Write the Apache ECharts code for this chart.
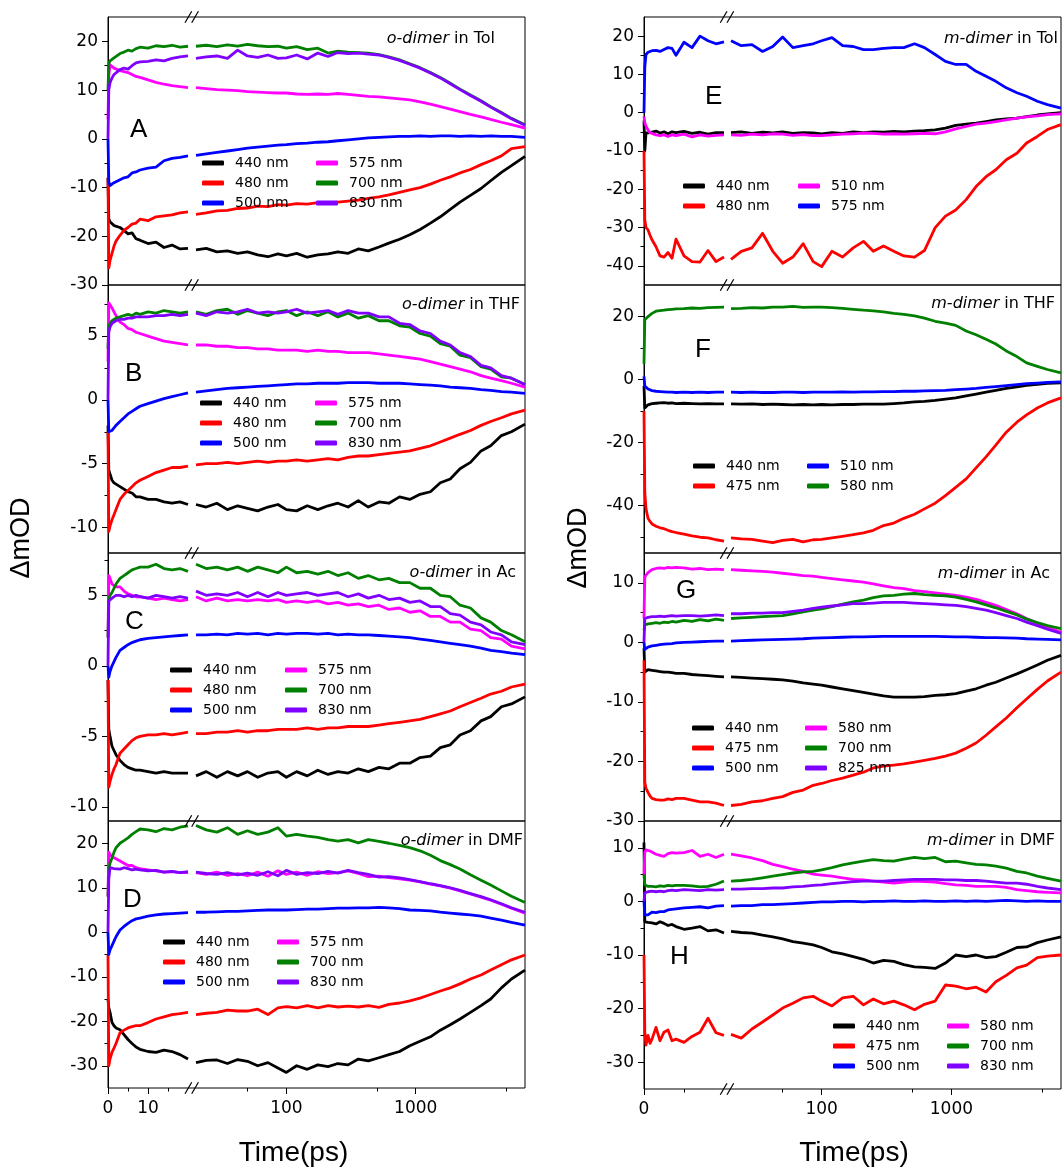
<!DOCTYPE html>
<html><head><meta charset="utf-8">
<script src="https://cdn.jsdelivr.net/npm/echarts@6/dist/echarts.min.js"></script>
<style>html,body{margin:0;padding:0;background:#fff}#c{width:1062px;height:1171px}</style>
</head><body><div id="c"></div>
<script>
// ---------- time axes (ps) ----------
const tLin = [0, 0.2, 0.5, 1, 1.5, 2, 3, 4, 5, 6, 7, 8, 10, 12, 14, 16, 18, 20];
const tLog = [20, 24, 29, 35, 42, 50, 60, 72, 86, 100, 120, 145, 175, 210, 250, 300, 360, 430, 520, 620, 750, 900, 1080, 1300, 1550, 1850, 2200, 2650, 3200, 3800, 4600, 5500, 7000];
const xTickLeft = [0, 10];
const xTickRight = [0];
const xTickLog = [100, 1000];

// ---------- A: o-dimer in Tol ----------
const A440L = [-8, -16.5, -17, -17.3, -17.8, -17.5, -18.2, -18.8, -19.5, -19.3, -20.5, -20.8, -21.5, -21.2, -22.3, -21.8, -22.6, -22.5];
const A440R = [-22.8, -22.5, -23.2, -23.0, -23.5, -23.2, -23.8, -24.2, -23.6, -24.0, -23.5, -24.3, -23.8, -23.6, -23.2, -23.5, -22.6, -23.0, -22.2, -21.4, -20.6, -19.7, -18.6, -17.3, -16.0, -14.5, -13.0, -11.6, -10.2, -8.6, -6.9, -5.5, -3.6];
const A480L = [-8, -26.5, -25, -23.5, -22, -21, -19.8, -18.8, -18.2, -17.5, -17.3, -16.5, -16.8, -16, -15.8, -15.6, -15.2, -15];
const A480R = [-15.5, -15.2, -14.8, -14.7, -14.3, -14.2, -13.8, -13.9, -13.5, -13.6, -13.3, -13.4, -13.1, -13.2, -13.0, -12.8, -12.6, -12.2, -11.9, -11.5, -11.0, -10.5, -10.0, -9.3, -8.5, -7.8, -7.0, -6.3, -5.3, -4.5, -3.5, -2.0, -1.6];
const A500L = [0, -8.8, -9.6, -9.2, -9.0, -8.8, -8.4, -8.0, -7.8, -7.0, -6.8, -6.4, -6.0, -5.8, -4.5, -4.0, -3.8, -3.5];
const A500R = [-3.4, -3.1, -2.8, -2.5, -2.2, -1.9, -1.7, -1.5, -1.3, -1.2, -1.0, -0.9, -0.7, -0.6, -0.4, -0.2, 0.0, 0.2, 0.3, 0.4, 0.5, 0.5, 0.6, 0.5, 0.6, 0.6, 0.5, 0.6, 0.5, 0.6, 0.5, 0.5, 0.3];
const A575L = [4, 13, 15.2, 14.8, 14.5, 14.2, 14.0, 13.8, 13.6, 13.2, 12.8, 12.6, 12.1, 11.6, 11.2, 10.9, 10.7, 10.5];
const A575R = [10.5, 10.3, 10.1, 10.0, 9.9, 9.7, 9.6, 9.5, 9.4, 9.4, 9.2, 9.1, 9.2, 9.1, 9.3, 9.1, 8.9, 8.7, 8.6, 8.4, 8.2, 8.0, 7.6, 7.1, 6.6, 6.1, 5.6, 5.0, 4.5, 4.0, 3.4, 2.9, 2.2];
const A700L = [10, 15.5, 16, 16.3, 16.6, 17, 17.5, 17.8, 18.2, 18.0, 18.5, 18.8, 18.6, 19.1, 18.9, 19.2, 18.8, 19];
const A700R = [19.0, 19.2, 18.9, 19.3, 19.0, 19.4, 19.1, 18.9, 19.0, 18.6, 18.9, 18.3, 18.6, 17.6, 18.0, 17.8, 17.7, 17.6, 17.3, 16.8, 16.2, 15.4, 14.6, 13.6, 12.6, 11.4, 10.2, 9.0, 7.8, 6.6, 5.4, 4.2, 2.9];
const A830L = [0, 10, 11.5, 12.5, 13.2, 13.6, 14.2, 14.5, 14.3, 15.0, 15.6, 15.8, 15.9, 16.2, 16.0, 16.5, 16.8, 17.0];
const A830R = [16.5, 16.8, 17.0, 16.5, 18.2, 17.0, 16.7, 17.2, 16.5, 16.6, 17.2, 16.4, 17.6, 16.9, 17.7, 17.5, 17.6, 17.4, 17.2, 16.7, 16.1, 15.3, 14.5, 13.5, 12.5, 11.3, 10.1, 8.9, 7.7, 6.5, 5.3, 4.1, 2.8];

// ---------- B: o-dimer in THF ----------
const B440L = [-2, -5.5, -5.8, -6.3, -6.5, -6.6, -6.8, -7.0, -7.2, -7.3, -7.6, -7.6, -7.8, -7.8, -8.0, -8.1, -8.0, -8.2];
const B440R = [-8.2, -8.4, -8.1, -8.6, -8.3, -8.5, -8.7, -8.4, -8.2, -8.6, -8.7, -8.3, -8.6, -8.3, -8.1, -8.4, -7.9, -8.4, -8.0, -8.1, -7.6, -7.8, -7.4, -7.2, -6.5, -6.2, -5.4, -4.9, -4.0, -3.6, -2.8, -2.5, -1.9];
const B480L = [-2.5, -10.3, -9.9, -9.4, -9.0, -8.6, -7.8, -7.4, -7.1, -6.8, -6.5, -6.3, -6.0, -5.7, -5.5, -5.3, -5.3, -5.2];
const B480R = [-5.1, -5.0, -5.0, -4.9, -5.0, -4.9, -4.8, -4.9, -4.8, -4.8, -4.7, -4.8, -4.7, -4.6, -4.7, -4.5, -4.4, -4.4, -4.3, -4.2, -4.1, -4.0, -3.8, -3.6, -3.3, -3.0, -2.7, -2.4, -2.0, -1.7, -1.4, -1.1, -0.8];
const B500L = [0, -2.5, -2.6, -2.4, -2.2, -2.0, -1.7, -1.4, -1.1, -0.9, -0.7, -0.5, -0.3, -0.1, 0.1, 0.25, 0.4, 0.55];
const B500R = [0.6, 0.7, 0.8, 0.9, 0.95, 1.0, 1.05, 1.1, 1.15, 1.2, 1.25, 1.25, 1.3, 1.3, 1.3, 1.35, 1.35, 1.35, 1.3, 1.3, 1.3, 1.25, 1.2, 1.15, 1.1, 1.0, 0.95, 0.9, 0.8, 0.75, 0.65, 0.6, 0.5];
const B575L = [3, 7.6, 7.5, 7.2, 6.9, 6.6, 6.1, 5.9, 5.6, 5.5, 5.3, 5.2, 5.0, 4.8, 4.6, 4.5, 4.4, 4.3];
const B575R = [4.3, 4.3, 4.2, 4.2, 4.1, 4.1, 4.0, 4.0, 3.9, 3.9, 3.9, 3.8, 3.9, 3.8, 3.8, 3.7, 3.7, 3.7, 3.6, 3.5, 3.4, 3.3, 3.2, 3.0, 2.8, 2.6, 2.4, 2.2, 1.9, 1.7, 1.5, 1.3, 1.0];
const B700L = [4, 5.8, 6.0, 6.2, 6.3, 6.4, 6.5, 6.6, 6.7, 6.6, 6.8, 6.7, 6.9, 6.8, 7.0, 6.9, 6.8, 6.9];
const B700R = [6.9, 6.7, 7.0, 7.1, 6.7, 7.0, 6.8, 6.6, 6.9, 7.0, 6.6, 6.9, 6.6, 6.9, 6.5, 6.8, 6.4, 6.6, 6.2, 6.2, 5.8, 5.7, 5.2, 5.0, 4.4, 4.2, 3.5, 3.3, 2.6, 2.4, 1.8, 1.7, 1.2];
const B830L = [0, 5.3, 5.7, 6.0, 6.1, 6.2, 6.3, 6.3, 6.4, 6.4, 6.5, 6.5, 6.5, 6.6, 6.6, 6.7, 6.6, 6.7];
const B830R = [6.8, 6.6, 6.9, 6.8, 6.9, 7.1, 6.8, 6.9, 6.8, 6.9, 7.1, 6.8, 6.9, 7.0, 6.7, 7.0, 6.8, 6.8, 6.5, 6.5, 6.0, 5.9, 5.4, 5.2, 4.6, 4.3, 3.7, 3.4, 2.7, 2.5, 1.9, 1.7, 1.2];

// ---------- C: o-dimer in Ac ----------
const C440L = [-1, -4.5, -5.0, -5.7, -6.0, -6.3, -6.7, -7.0, -7.2, -7.3, -7.4, -7.4, -7.5, -7.6, -7.5, -7.6, -7.6, -7.6];
const C440R = [-7.8, -7.5, -7.9, -7.5, -7.8, -7.5, -7.9, -7.6, -7.5, -7.9, -7.5, -7.8, -7.4, -7.7, -7.5, -7.6, -7.3, -7.5, -7.2, -7.3, -6.9, -6.9, -6.5, -6.4, -5.8, -5.6, -4.9, -4.6, -3.9, -3.6, -2.9, -2.7, -2.2];
const C480L = [-1, -8.6, -8.2, -7.7, -7.3, -7.0, -6.2, -5.9, -5.6, -5.3, -5.1, -5.0, -4.9, -4.9, -4.8, -4.9, -4.8, -4.7];
const C480R = [-4.8, -4.8, -4.7, -4.7, -4.6, -4.7, -4.6, -4.6, -4.5, -4.5, -4.5, -4.4, -4.5, -4.4, -4.4, -4.3, -4.3, -4.3, -4.2, -4.1, -4.0, -3.9, -3.8, -3.6, -3.4, -3.2, -2.9, -2.6, -2.3, -2.0, -1.8, -1.5, -1.3];
const C500L = [0, -0.8, -0.4, 0.0, 0.3, 0.6, 1.1, 1.3, 1.5, 1.65, 1.75, 1.85, 1.95, 2.0, 2.05, 2.1, 2.15, 2.2];
const C500R = [2.2, 2.2, 2.25, 2.2, 2.3, 2.25, 2.3, 2.2, 2.3, 2.25, 2.3, 2.3, 2.25, 2.3, 2.2, 2.25, 2.2, 2.2, 2.15, 2.1, 2.05, 2.0, 1.9, 1.8, 1.7, 1.6, 1.5, 1.4, 1.25, 1.1, 1.0, 0.9, 0.8];
const C575L = [2, 6.4, 6.2, 5.8, 5.7, 5.6, 5.6, 5.3, 5.1, 5.0, 4.9, 4.9, 4.8, 4.7, 4.8, 4.7, 4.6, 4.7];
const C575R = [4.9, 4.6, 4.8, 4.6, 4.7, 4.6, 4.7, 4.6, 4.7, 4.5, 4.6, 4.5, 4.6, 4.4, 4.5, 4.3, 4.4, 4.2, 4.3, 4.0, 4.1, 3.8, 3.9, 3.5, 3.5, 3.1, 3.1, 2.6, 2.5, 2.0, 1.9, 1.4, 1.2];
const C700L = [2, 4.7, 5.0, 5.2, 5.5, 5.8, 6.2, 6.4, 6.6, 6.8, 6.9, 7.0, 7.0, 7.2, 6.9, 6.8, 6.9, 6.7];
const C700R = [7.2, 6.9, 7.0, 6.8, 7.0, 6.7, 7.0, 6.8, 6.6, 7.0, 6.6, 6.7, 6.5, 6.7, 6.4, 6.6, 6.2, 6.4, 6.1, 6.2, 5.9, 5.9, 5.5, 5.5, 5.0, 4.9, 4.3, 4.1, 3.4, 3.1, 2.5, 2.2, 1.7];
const C830L = [0, 4.6, 4.7, 4.8, 4.9, 5.0, 5.0, 4.9, 5.0, 4.9, 5.0, 4.9, 4.8, 5.0, 4.9, 4.8, 4.9, 4.8];
const C830R = [5.3, 5.0, 5.1, 5.0, 5.2, 4.9, 5.2, 4.9, 5.2, 5.0, 5.1, 5.2, 5.0, 5.1, 5.2, 4.9, 5.1, 4.8, 5.0, 4.7, 4.8, 4.5, 4.6, 4.2, 4.2, 3.7, 3.6, 3.1, 2.9, 2.4, 2.2, 1.7, 1.5];

// ---------- D: o-dimer in DMF ----------
const D440L = [-15, -17, -18, -20.3, -21, -21.5, -21.9, -23, -24.1, -25, -25.8, -26.3, -26.8, -27.0, -26.5, -26.8, -27.5, -28.5];
const D440R = [-29.3, -28.8, -28.7, -29.5, -28.6, -29.0, -30.0, -29.3, -30.5, -31.5, -30.0, -30.8, -29.8, -30.2, -29.5, -29.8, -28.5, -28.9, -28.2, -27.5, -26.8, -25.5, -24.5, -23.5, -22.0, -20.8, -19.5, -18.0, -16.5, -15.0, -12.5, -10.5, -8.5];
const D480L = [-5, -30, -28.5, -27, -26, -25, -22.6, -22, -21.5, -21.2, -21, -21, -20.3, -19.5, -19, -18.5, -18.3, -18];
const D480R = [-18.5, -18.2, -18.0, -17.5, -17.7, -17.7, -17.3, -18.5, -17.0, -16.7, -17.0, -16.5, -17.0, -16.5, -16.8, -16.6, -16.8, -16.5, -16.9, -16.2, -15.9, -15.4, -14.8, -14.0, -13.2, -12.5, -11.6, -10.5, -9.6, -8.5, -7.3, -6.2, -5.1];
const D500L = [0, -5, -4.0, -3.0, -2.0, -1.0, 0.5, 1.3, 2.0, 2.6, 3.0, 3.2, 3.6, 3.9, 4.1, 4.2, 4.3, 4.4];
const D500R = [4.5, 4.5, 4.6, 4.7, 4.7, 4.8, 4.9, 5.0, 5.0, 5.0, 5.1, 5.2, 5.2, 5.3, 5.4, 5.4, 5.5, 5.5, 5.6, 5.5, 5.3, 5.0, 4.9, 4.8, 4.5, 4.3, 4.1, 3.9, 3.6, 3.2, 2.7, 2.2, 1.6];
const D575L = [8, 18, 17.5, 17.0, 16.8, 16.5, 16.0, 15.5, 15.0, 15.0, 14.5, 14.3, 14.0, 13.8, 13.5, 13.6, 13.4, 13.4];
const D575R = [13.4, 13.0, 13.5, 12.8, 13.2, 12.7, 13.5, 12.6, 13.8, 13.0, 13.5, 12.8, 13.6, 13.2, 13.4, 13.8, 13.2, 12.5, 12.6, 12.3, 12.0, 11.7, 11.3, 10.8, 10.4, 9.9, 9.3, 8.6, 7.9, 7.2, 6.3, 5.4, 4.3];
const D700L = [8, 14.3, 15.5, 16.7, 18, 19, 20, 20.6, 21.2, 22, 22.6, 23.2, 23.0, 22.6, 23.3, 23.0, 23.6, 23.9];
const D700R = [24.0, 23.0, 22.5, 23.5, 22.0, 22.8, 22.0, 22.5, 23.5, 21.6, 22.0, 21.6, 21.3, 20.8, 20.5, 20.8, 20.1, 20.8, 20.4, 20.0, 19.5, 19.0, 18.3, 17.3, 16.1, 15.2, 14.2, 12.9, 11.7, 10.6, 9.3, 8.1, 6.7];
const D830L = [0, 12, 14.5, 14.5, 14.3, 14.6, 14.2, 14.5, 14.3, 14.0, 14.2, 14.0, 13.8, 13.9, 13.5, 13.7, 13.4, 13.6];
const D830R = [13.5, 13.2, 13.0, 13.4, 12.9, 13.3, 12.8, 13.6, 12.7, 13.9, 13.0, 13.4, 13.2, 13.7, 13.3, 13.9, 13.4, 13.0, 12.4, 12.5, 12.2, 11.8, 11.4, 10.9, 10.5, 10.0, 9.4, 8.7, 8.0, 7.3, 6.4, 5.5, 4.5];

// ---------- E: m-dimer in Tol ----------
const E440L = [-2, -10, -5.3, -5.0, -5.2, -5.0, -4.8, -5.3, -5.0, -5.5, -5.0, -5.2, -4.9, -5.4, -5.1, -5.6, -5.2, -5.2];
const E440R = [-5.2, -5.0, -5.4, -5.1, -5.3, -5.0, -5.4, -5.2, -5.3, -5.5, -5.2, -5.4, -5.0, -5.2, -5.0, -5.1, -4.9, -5.0, -4.8, -4.7, -4.5, -4.0, -3.3, -3.0, -2.7, -2.3, -1.9, -1.6, -1.4, -1.0, -0.6, -0.3, 0.0];
const E480L = [-10, -28, -30, -30.6, -32, -33.2, -35, -37.4, -37.7, -36.5, -38, -33, -37.4, -38.9, -39, -36, -38.9, -37.7];
const E480R = [-38.3, -36.2, -35.3, -31.5, -36.2, -39.3, -37.7, -34.2, -38.9, -40.2, -36.2, -37.7, -35.3, -33.6, -36.2, -34.8, -36.2, -37.4, -37.7, -36.0, -30.0, -27.0, -25.4, -22.7, -19.3, -16.7, -14.9, -12.3, -10.6, -7.9, -6.2, -4.4, -3.1];
const E510L = [-1, -2.6, -3.5, -4.5, -5.2, -5.6, -5.8, -6.0, -5.8, -6.2, -5.8, -6.0, -5.6, -6.3, -5.8, -6.1, -5.9, -5.8];
const E510R = [-5.8, -5.9, -5.6, -5.8, -5.5, -5.6, -5.9, -5.7, -6.0, -6.0, -5.8, -5.6, -5.5, -5.3, -5.4, -5.6, -5.5, -5.6, -5.5, -5.4, -5.5, -5.0, -4.2, -3.6, -3.0, -2.7, -2.3, -1.9, -1.4, -1.1, -0.8, -0.5, -0.3];
const E575L = [0, 12, 15.2, 15.8, 16.0, 16.2, 16.3, 16.0, 16.5, 17.0, 16.8, 15.0, 18.4, 17.0, 20.0, 18.8, 18.0, 18.5];
const E575R = [18.8, 17.5, 17.8, 16.0, 17.3, 19.8, 17.0, 17.5, 18.0, 18.8, 19.6, 17.5, 17.3, 16.5, 16.5, 16.8, 17.0, 17.0, 18.0, 17.0, 15.2, 13.4, 12.6, 12.6, 10.8, 9.5, 8.2, 6.5, 5.2, 4.3, 3.0, 2.1, 1.2];

// ---------- F: m-dimer in THF ----------
const F440L = [-2, -9, -8.5, -8.0, -7.8, -7.6, -7.5, -7.4, -7.3, -7.5, -7.4, -7.6, -7.5, -7.6, -7.7, -7.6, -7.7, -7.7];
const F440R = [-7.7, -7.8, -7.7, -7.9, -7.8, -7.9, -8.0, -7.9, -8.0, -7.9, -8.0, -7.9, -7.9, -7.8, -7.8, -7.8, -7.6, -7.4, -7.1, -6.9, -6.6, -6.2, -5.8, -5.2, -4.6, -4.0, -3.4, -2.8, -2.3, -1.8, -1.5, -1.2, -1.0];
const F475L = [-10, -35.8, -41, -44, -45, -45.8, -46.5, -47, -47.3, -47.8, -48.2, -48.5, -49, -49.6, -50, -50.2, -50.8, -51.2];
const F475R = [-50.2, -50.5, -50.7, -51.2, -51.7, -51.0, -50.7, -51.5, -50.8, -50.7, -50.2, -49.7, -49.2, -48.6, -47.8, -46.3, -45.5, -44.0, -42.7, -41.0, -39.2, -36.8, -34.2, -31.5, -28.0, -24.5, -20.8, -16.7, -13.5, -11.2, -9.0, -7.4, -5.8];
const F510L = [1, -2.0, -2.6, -3.0, -3.3, -3.5, -3.7, -3.8, -3.9, -4.0, -4.0, -4.1, -4.0, -4.1, -4.0, -4.1, -4.0, -4.0];
const F510R = [-4.0, -4.1, -4.0, -4.1, -4.1, -4.0, -4.0, -4.1, -4.0, -4.0, -4.0, -3.9, -4.0, -3.9, -3.9, -3.8, -3.8, -3.7, -3.7, -3.6, -3.5, -3.4, -3.2, -3.0, -2.8, -2.5, -2.2, -1.9, -1.6, -1.3, -1.1, -0.9, -0.7];
const F580L = [5, 19, 19.5, 20, 20.5, 21, 21.7, 21.9, 22, 22.2, 22.3, 22.4, 22.5, 22.7, 22.6, 22.8, 22.9, 23.0];
const F580R = [22.5, 22.6, 22.8, 22.7, 23.0, 23.0, 23.2, 22.9, 23.0, 23.0, 22.8, 22.6, 22.3, 22.0, 21.8, 21.5, 21.0, 20.7, 20.2, 19.5, 18.5, 17.9, 17.2, 15.4, 14.2, 12.8, 11.3, 9.1, 7.3, 5.3, 4.2, 3.2, 2.1];

// ---------- G: m-dimer in Ac ----------
const G440L = [-1, -5.0, -4.8, -4.6, -4.6, -4.7, -4.8, -4.9, -5.0, -5.0, -5.1, -5.2, -5.2, -5.4, -5.5, -5.6, -5.7, -5.8];
const G440R = [-5.8, -5.9, -6.0, -6.1, -6.2, -6.3, -6.5, -6.8, -7.0, -7.2, -7.5, -7.8, -8.1, -8.4, -8.7, -9.0, -9.2, -9.2, -9.2, -9.1, -8.9, -8.8, -8.6, -8.2, -7.8, -7.2, -6.7, -6.0, -5.3, -4.6, -3.8, -3.0, -2.2];
const G475L = [-3, -23.5, -24.5, -25.2, -25.8, -26.2, -26.4, -26.5, -26.5, -26.3, -26.4, -26.2, -26.2, -26.5, -26.8, -26.8, -27.0, -27.4];
const G475R = [-27.4, -27.2, -26.8, -26.6, -26.2, -25.9, -25.2, -24.8, -24.0, -23.7, -23.2, -22.8, -22.3, -21.8, -21.1, -20.8, -20.6, -20.4, -20.1, -19.8, -19.5, -19.1, -18.6, -17.8, -16.9, -15.6, -14.2, -12.7, -11.0, -9.5, -7.9, -6.5, -5.0];
const G500L = [0, -1.2, -1.0, -0.8, -0.7, -0.6, -0.5, -0.4, -0.3, -0.25, -0.2, -0.1, 0.0, 0.05, 0.1, 0.15, 0.2, 0.2];
const G500R = [0.2, 0.3, 0.35, 0.4, 0.45, 0.5, 0.55, 0.6, 0.7, 0.75, 0.8, 0.85, 0.9, 0.9, 0.95, 1.0, 1.0, 1.0, 1.0, 1.0, 1.0, 0.95, 0.9, 0.9, 0.85, 0.8, 0.8, 0.75, 0.7, 0.6, 0.55, 0.5, 0.4];
const G580L = [4, 10.9, 11.3, 11.7, 12.0, 12.2, 12.4, 12.5, 12.4, 12.6, 12.5, 12.6, 12.5, 12.3, 12.4, 12.2, 12.3, 12.2];
const G580R = [12.2, 12.1, 12.0, 11.9, 11.8, 11.6, 11.4, 11.2, 11.1, 10.9, 10.7, 10.5, 10.3, 10.1, 9.8, 9.5, 9.2, 9.0, 8.7, 8.5, 8.3, 8.1, 7.9, 7.6, 7.2, 6.7, 6.2, 5.5, 4.8, 4.0, 3.2, 2.5, 1.7];
const G700L = [2, 2.9, 3.0, 3.1, 3.2, 3.2, 3.3, 3.2, 3.4, 3.3, 3.5, 3.4, 3.7, 3.5, 3.8, 3.6, 3.9, 3.7];
const G700R = [4.0, 4.1, 4.2, 4.3, 4.4, 4.5, 4.8, 5.1, 5.4, 5.6, 6.0, 6.4, 6.8, 7.1, 7.5, 7.8, 7.9, 8.1, 8.2, 8.0, 7.9, 7.8, 7.6, 7.2, 6.8, 6.3, 5.8, 5.2, 4.6, 3.9, 3.3, 2.8, 2.3];
const G825L = [0, 4.0, 4.1, 4.2, 4.2, 4.3, 4.3, 4.4, 4.3, 4.4, 4.5, 4.4, 4.5, 4.5, 4.4, 4.5, 4.6, 4.5];
const G825R = [4.8, 4.8, 4.9, 4.9, 5.0, 5.0, 5.2, 5.4, 5.7, 5.9, 6.1, 6.3, 6.5, 6.5, 6.6, 6.7, 6.7, 6.7, 6.6, 6.5, 6.4, 6.3, 6.2, 6.0, 5.7, 5.4, 5.0, 4.5, 4.0, 3.4, 2.8, 2.2, 1.5];

// ---------- H: m-dimer in DMF ----------
const H440L = [11, -3.8, -4.0, -3.9, -4.1, -4.0, -4.2, -3.8, -4.1, -4.5, -4.3, -4.7, -5.2, -5.0, -4.7, -5.5, -5.3, -5.9];
const H440R = [-5.6, -5.8, -5.9, -6.3, -6.6, -7.0, -7.5, -7.8, -8.1, -8.6, -9.4, -9.8, -10.3, -10.8, -11.5, -11.0, -11.2, -11.8, -12.2, -12.3, -12.5, -11.5, -10.0, -10.3, -10.0, -10.5, -10.3, -9.5, -8.6, -8.5, -7.7, -7.2, -6.6];
const H475L = [-10, -24.4, -26.8, -25, -26.5, -25.7, -23.5, -26, -24.4, -24, -26, -25.7, -26.3, -25.2, -24.4, -21.8, -24.5, -25];
const H475R = [-24.8, -25.5, -23.8, -22.5, -21.2, -19.9, -19.0, -18.0, -17.7, -18.6, -19.5, -18.0, -17.7, -19.3, -18.2, -19.1, -18.6, -19.3, -20.2, -19.2, -18.6, -15.6, -15.8, -16.3, -16.0, -16.9, -15.0, -13.8, -12.4, -11.9, -10.5, -10.2, -10.0];
const H500L = [0, -2.5, -2.8, -2.5, -2.3, -2.0, -2.1, -1.9, -1.9, -1.6, -1.5, -1.4, -1.2, -1.1, -1.0, -1.2, -0.9, -0.8];
const H500R = [-0.9, -0.8, -0.8, -0.6, -0.6, -0.5, -0.4, -0.3, -0.2, -0.1, -0.1, 0.0, 0.0, -0.1, 0.0, 0.0, 0.1, 0.0, 0.0, 0.1, 0.0, 0.0, 0.1, 0.0, 0.1, 0.0, 0.1, 0.2, 0.1, 0.0, 0.1, 0.0, 0.0];
const H580L = [5, 9.2, 9.6, 9.7, 9.4, 9.2, 8.8, 8.6, 8.4, 8.9, 9.1, 9.0, 9.1, 9.5, 8.4, 8.8, 8.2, 8.8];
const H580R = [8.8, 8.5, 8.1, 7.6, 6.9, 6.5, 6.0, 5.6, 5.1, 4.9, 4.7, 4.4, 4.1, 4.0, 3.8, 3.6, 3.4, 3.6, 3.8, 3.7, 3.6, 3.3, 3.1, 3.0, 2.8, 2.8, 2.8, 2.6, 2.2, 2.0, 1.8, 1.7, 1.6];
const H700L = [5, 3.1, 2.9, 2.8, 3.0, 2.8, 2.7, 2.9, 2.8, 3.0, 2.9, 3.0, 3.0, 2.9, 2.7, 2.8, 3.2, 3.8];
const H700R = [3.8, 3.9, 4.1, 4.4, 4.7, 5.0, 5.3, 5.5, 5.6, 5.9, 6.3, 6.8, 7.2, 7.5, 7.8, 7.6, 7.5, 7.9, 8.2, 8.0, 8.2, 7.4, 7.5, 7.2, 6.9, 6.8, 6.6, 6.2, 5.6, 5.3, 4.7, 4.3, 3.8];
const H830L = [0, 1.6, 1.7, 1.8, 1.8, 1.9, 1.8, 1.9, 1.8, 2.0, 2.1, 2.0, 2.2, 2.1, 2.0, 2.2, 2.1, 2.2];
const H830R = [2.3, 2.3, 2.4, 2.4, 2.5, 2.5, 2.7, 2.8, 3.0, 3.1, 3.3, 3.5, 3.7, 3.8, 3.8, 3.8, 3.9, 4.0, 4.1, 4.1, 4.1, 4.0, 4.0, 3.9, 3.9, 3.8, 3.6, 3.4, 3.4, 3.2, 2.8, 2.5, 2.2];

// ---------- styling / layout ----------
const K = '#000000', R = '#ff0000', Bl = '#0000ff', M = '#ff00ff', G = '#008000', P = '#8000ff';
const FONT = 'DejaVu Sans';
const panels = [
  {col:0, top:17, h:268, min:-30, max:25, major:[-30,-20,-10,0,10,20], minor:[-25,-15,-5,5,15], bottom:false,
   letter:'A', lx:130, ly:130, title:['o-dimer',' in Tol'], tRight:567, tTop:29, lg:[202,316,153],
   series:[['440 nm',K,A440L,A440R],['480 nm',R,A480L,A480R],['500 nm',Bl,A500L,A500R],['575 nm',M,A575L,A575R],['700 nm',G,A700L,A700R],['830 nm',P,A830L,A830R]]},
  {col:0, top:285, h:268, min:-12, max:9, major:[-10,-5,0,5], minor:[-7.5,-2.5,2.5,7.5], bottom:false,
   letter:'B', lx:125, ly:374, title:['o-dimer',' in THF'], tRight:542, tTop:295, lg:[200,315,393],
   series:[['440 nm',K,B440L,B440R],['480 nm',R,B480L,B480R],['500 nm',Bl,B500L,B500R],['575 nm',M,B575L,B575R],['700 nm',G,B700L,B700R],['830 nm',P,B830L,B830R]]},
  {col:0, top:553, h:268, min:-11, max:8, major:[-10,-5,0,5], minor:[-7.5,-2.5,2.5,7.5], bottom:false,
   letter:'C', lx:125, ly:622, title:['o-dimer',' in Ac'], tRight:546, tTop:563, lg:[170,285,660],
   series:[['440 nm',K,C440L,C440R],['480 nm',R,C480L,C480R],['500 nm',Bl,C500L,C500R],['575 nm',M,C575L,C575R],['700 nm',G,C700L,C700R],['830 nm',P,C830L,C830R]]},
  {col:0, top:821, h:267, min:-35, max:25, major:[-30,-20,-10,0,10,20], minor:[-25,-15,-5,5,15], bottom:true,
   letter:'D', lx:123, ly:900, title:['o-dimer',' in DMF'], tRight:539, tTop:831, lg:[163,277,932],
   series:[['440 nm',K,D440L,D440R],['480 nm',R,D480L,D480R],['500 nm',Bl,D500L,D500R],['575 nm',M,D575L,D575R],['700 nm',G,D700L,D700R],['830 nm',P,D830L,D830R]]},
  {col:1, top:17, h:268, min:-45, max:25, major:[-40,-30,-20,-10,0,10,20], minor:[-35,-25,-15,-5,5,15], bottom:false,
   letter:'E', lx:705, ly:97, title:['m-dimer',' in Tol'], tRight:4, tTop:29, lg:[683,798,176],
   series:[['440 nm',K,E440L,E440R],['480 nm',R,E480L,E480R],['510 nm',M,E510L,E510R],['575 nm',Bl,E575L,E575R]]},
  {col:1, top:285, h:268, min:-55, max:30, major:[-40,-20,0,20], minor:[-50,-30,-10,10], bottom:false,
   letter:'F', lx:695, ly:350, title:['m-dimer',' in THF'], tRight:7, tTop:294, lg:[693,807,456],
   series:[['440 nm',K,F440L,F440R],['475 nm',R,F475L,F475R],['510 nm',Bl,F510L,F510R],['580 nm',G,F580L,F580R]]},
  {col:1, top:553, h:268, min:-30, max:15, major:[-30,-20,-10,0,10], minor:[-25,-15,-5,5], bottom:false,
   letter:'G', lx:676, ly:591, title:['m-dimer',' in Ac'], tRight:12, tTop:564, lg:[692,805,718],
   series:[['440 nm',K,G440L,G440R],['475 nm',R,G475L,G475R],['500 nm',Bl,G500L,G500R],['580 nm',M,G580L,G580R],['700 nm',G,G700L,G700R],['825 nm',P,G825L,G825R]]},
  {col:1, top:821, h:268, min:-35, max:15, major:[-30,-20,-10,0,10], minor:[-25,-15,-5,5], bottom:true,
   letter:'H', lx:670, ly:957, title:['m-dimer',' in DMF'], tRight:7, tTop:831, lg:[833,947,1016],
   series:[['440 nm',K,H440L,H440R],['475 nm',R,H475L,H475R],['500 nm',Bl,H500L,H500R],['580 nm',M,H580L,H580R],['700 nm',G,H700L,H700R],['830 nm',P,H830L,H830R]]}
];
const COLS = [
  {fl:108, fw:417, ll:108, lw:80, rl:196, rw:329, brk:191.7, xt:293.5, yl:22, yc:538},
  {fl:644, fw:417, ll:644, lw:80, rl:731, rw:330, brk:727, xt:854, yl:579, yc:548}
];

const option = {animation:false, backgroundColor:'#fff', grid:[], xAxis:[], yAxis:[], series:[], legend:[], title:[], graphic:[]};
const labelStyle = {fontFamily:FONT, fontSize:17, color:'#000'};
const fmt = v => String(v);
const noLine = {show:false, onZero:false};

panels.forEach(p => {
  const c = COLS[p.col];
  const gF = option.grid.length;
  option.grid.push({left:c.fl, top:p.top, width:c.fw, height:p.h, show:true, borderColor:'#000', borderWidth:1, backgroundColor:'transparent', z:3});
  option.grid.push({left:c.ll, top:p.top, width:c.lw, height:p.h});
  option.grid.push({left:c.rl, top:p.top, width:c.rw, height:p.h});
  const gL = gF + 1, gR = gF + 2;
  option.xAxis.push({gridIndex:gF, type:'value', min:0, max:1, show:false, axisLine:noLine});
  option.yAxis.push({gridIndex:gF, type:'value', min:0, max:1, show:false, axisLine:noLine});
  const xL = option.xAxis.length;
  const linMajor = p.col === 0 ? xTickLeft : xTickRight;
  const linMinor = p.col === 0 ? [5, 15] : [10];
  option.xAxis.push({gridIndex:gL, type:'value', min:0, max:20, position:'bottom', show:p.bottom,
    axisLine:noLine, splitLine:{show:false},
    axisTick:{show:true, length:6, customValues:linMajor, lineStyle:{color:'#000', width:1}},
    axisLabel:Object.assign({customValues:linMajor, margin:12, formatter:fmt}, labelStyle)});
  const xR = option.xAxis.length;
  option.xAxis.push({gridIndex:gR, type:'log', logBase:10, min:20, max:7000, position:'bottom', show:p.bottom,
    axisLine:noLine, splitLine:{show:false},
    axisTick:{show:true, length:6, customValues:xTickLog, lineStyle:{color:'#000', width:1}},
    axisLabel:Object.assign({customValues:xTickLog, margin:12, formatter:fmt}, labelStyle)});
  if (p.bottom) {
    option.xAxis.push({gridIndex:gL, type:'value', min:0, max:20, position:'bottom',
      axisLine:noLine, splitLine:{show:false}, axisLabel:{show:false},
      axisTick:{show:true, length:3.5, customValues:linMinor, lineStyle:{color:'#000', width:1}}});
    option.xAxis.push({gridIndex:gR, type:'log', logBase:10, min:20, max:7000, position:'bottom',
      axisLine:noLine, splitLine:{show:false}, axisLabel:{show:false},
      axisTick:{show:true, length:3.5, customValues:[50, 500, 5000], lineStyle:{color:'#000', width:1}}});
  }
  const yL = option.yAxis.length;
  option.yAxis.push({gridIndex:gL, type:'value', min:p.min, max:p.max, position:'left',
    axisLine:{show:true, onZero:false, lineStyle:{color:'#000', width:1}}, splitLine:{show:false},
    axisTick:{show:true, length:6, customValues:p.major, lineStyle:{color:'#000', width:1}},
    axisLabel:Object.assign({customValues:p.major, margin:10, formatter:fmt}, labelStyle)});
  option.yAxis.push({gridIndex:gL, type:'value', min:p.min, max:p.max, position:'left',
    axisLine:noLine, splitLine:{show:false}, axisLabel:{show:false},
    axisTick:{show:true, length:3.5, customValues:p.minor, lineStyle:{color:'#000', width:1}}});
  const yR = option.yAxis.length;
  option.yAxis.push({gridIndex:gR, type:'value', min:p.min, max:p.max, show:false, axisLine:noLine});

  p.series.forEach(s => {
    const common = {type:'line', name:s[0], showSymbol:false, symbol:'none', clip:true, smooth:false,
      lineStyle:{color:s[1], width:2.8, join:'round'}, itemStyle:{color:s[1]}, emphasis:{disabled:true}};
    option.series.push(Object.assign({}, common, {xAxisIndex:xL, yAxisIndex:yL, data:tLin.map((t, i) => [t, s[2][i]])}));
    option.series.push(Object.assign({}, common, {xAxisIndex:xR, yAxisIndex:yR, data:tLog.map((t, i) => [t, s[3][i]])}));
  });

  const half = Math.ceil(p.series.length / 2);
  [p.series.slice(0, half), p.series.slice(half)].forEach((grp, gi) => {
    option.legend.push({
      left: gi === 0 ? p.lg[0] : p.lg[1], top: p.lg[2], orient:'vertical', padding:0, itemGap:0,
      itemWidth:22, itemHeight:5, icon:'roundRect', selectedMode:false,
      textStyle:{fontFamily:FONT, fontSize:14, color:'#000', lineHeight:20, padding:[0,0,0,6]},
      data: grp.map(s => ({name:s[0], itemStyle:{color:s[1], borderWidth:0}}))
    });
  });

  option.title.push({text:'{i|' + p.title[0] + '}' + p.title[1], right:p.tRight, top:p.tTop, padding:0,
    textStyle:{fontFamily:FONT, fontSize:16, fontWeight:'normal', color:'#000', lineHeight:20,
      rich:{i:{fontFamily:FONT, fontSize:16, fontStyle:'italic', color:'#000', lineHeight:20}}}});

  option.graphic.push({type:'text', x:p.lx, y:p.ly, z:10,
    style:{text:p.letter, font:'26px "Liberation Sans", Arial', fill:'#000', textAlign:'left', textVerticalAlign:'middle'}});
});

// axis break marks and axis titles
COLS.forEach((c, ci) => {
  const ys = ci === 0 ? [17, 285, 553, 821, 1088] : [17, 285, 553, 821, 1089];
  ys.forEach(y => {
    [[c.brk - 6.7, c.brk], [c.brk, c.brk + 6.7]].forEach(([x1, x2]) => {
      option.graphic.push({type:'line', z:10, shape:{x1:x1, y1:y + 5.8, x2:x2, y2:y - 5.8}, style:{stroke:'#000', lineWidth:1.2}});
    });
  });
  option.graphic.push({type:'text', x:c.xt, y:1153, z:10,
    style:{text:'Time(ps)', font:'28px "Liberation Sans", Arial', fill:'#000', textAlign:'center', textVerticalAlign:'middle'}});
  option.graphic.push({type:'text', x:c.yl, y:c.yc, rotation:Math.PI / 2, z:10,
    style:{text:'ΔmOD', font:'27px "Liberation Sans", Arial', fill:'#000', textAlign:'center', textVerticalAlign:'middle'}});
});

const chart = echarts.init(document.getElementById('c'), null, {renderer:'canvas'});
chart.setOption(option);
</script>
</body></html>
